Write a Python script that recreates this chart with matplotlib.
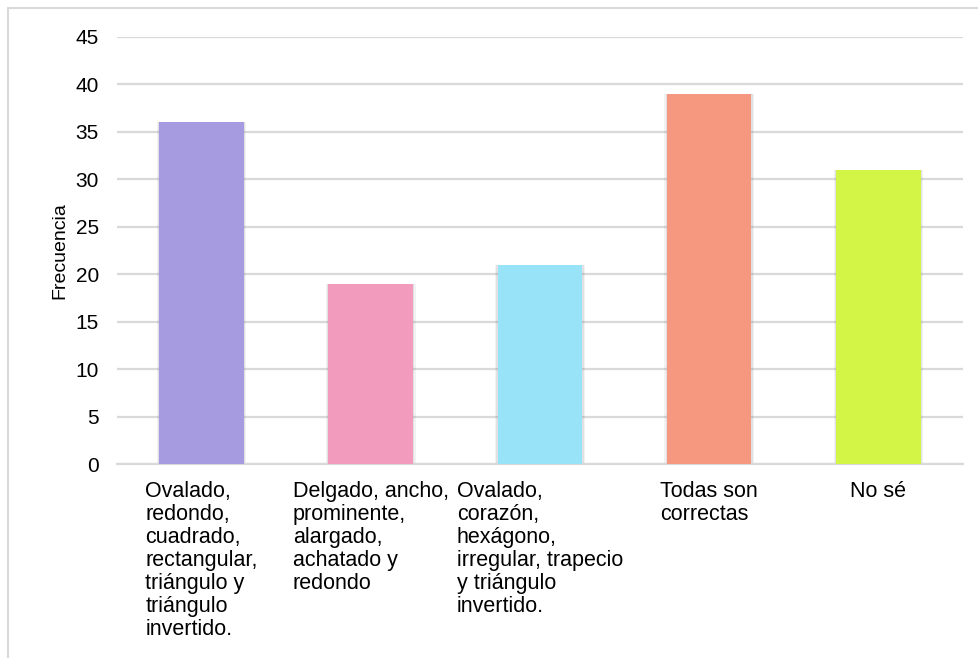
import matplotlib
matplotlib.use('Agg')
import matplotlib.pyplot as plt
from matplotlib.patches import Rectangle

categorias = ['Ovalado,\nredondo,\ncuadrado,\nrectangular,\ntriángulo y\ntriángulo\ninvertido.',
              'Delgado, ancho,\nprominente,\nalargado,\nachatado y\nredondo',
              'Ovalado,\ncorazón,\nhexágono,\nirregular, trapecio\ny triángulo\ninvertido.',
              'Todas son\ncorrectas',
              'No sé']
frecuencia = [36, 19, 21, 39, 31]
colores = ['#a69ae0', '#f29bbc', '#99e3f8', '#f6977f', '#d2f546']
yticks = [0, 5, 10, 15, 20, 25, 30, 35, 40, 45]

plt.rcParams['font.family'] = ['Liberation Sans', 'DejaVu Sans']
fntsize = 15.5

fig = plt.figure(figsize=(9.79, 6.58), dpi=100)
# marco del grafico (estilo Excel), se sale por la derecha y abajo
fig.patches.append(Rectangle((8/979, -0.1), 1.2, 1.1 - 8/658, transform=fig.transFigure,
                             fill=False, edgecolor='#d9d9d9', linewidth=1.5, zorder=0))

ax = fig.add_axes([117/979, 1 - 464/658, (963-117)/979, (464-37)/658])
x = list(range(len(categorias)))

# sombra suave de las barras
for w, a in [(0.53, 0.10), (0.515, 0.15)]:
    ax.bar(x, frecuencia, width=w, color='#808080', alpha=a, zorder=2, linewidth=0)
ax.bar(x, frecuencia, width=0.5, color=colores, zorder=3, linewidth=0)

ax.set_xlim(-0.5, len(categorias) - 0.5)
ax.set_ylim(0, 45)
ax.set_yticks(yticks)
ax.yaxis.grid(True, color='#d9d9d9', linewidth=1.6, zorder=0)
ax.set_axisbelow(True)
for s in ['top', 'right', 'left']:
    ax.spines[s].set_visible(False)
ax.spines['bottom'].set_color('#d9d9d9')
ax.spines['bottom'].set_linewidth(1.6)

ax.set_xticks(x)
ax.set_xticklabels(categorias, fontsize=fntsize, multialignment='left', linespacing=1.13)
ax.tick_params(axis='x', length=0, pad=12)
ax.tick_params(axis='y', length=0, pad=13, labelsize=15)
ax.set_ylabel('Frecuencia', fontsize=14, labelpad=5)

fig.savefig('out.png', dpi=100)
